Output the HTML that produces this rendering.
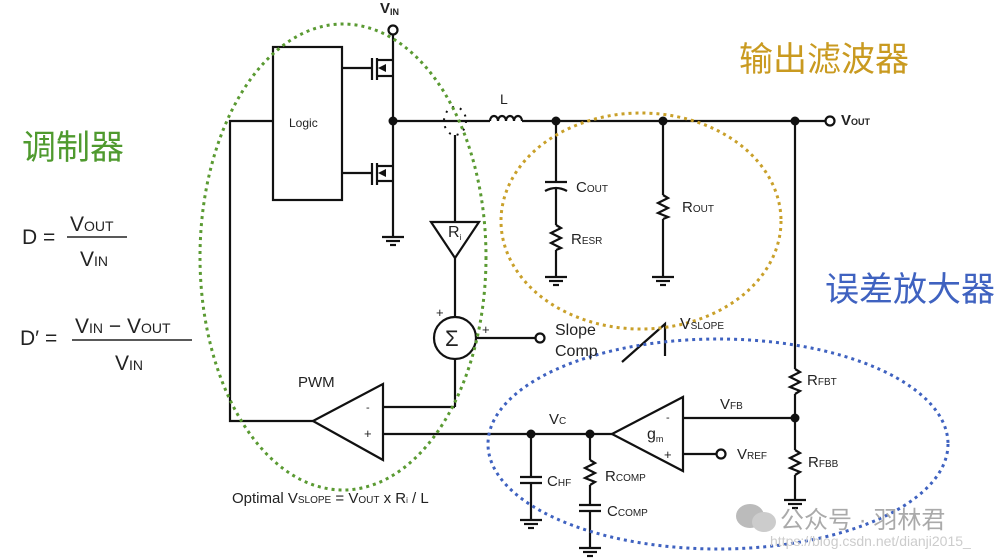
<!DOCTYPE html>
<html><head><meta charset="utf-8"><style>
html,body{margin:0;padding:0;background:#fff;}
svg{display:block;}
text{font-family:"Liberation Sans",Arial,sans-serif;fill:#222;}
.cn{font-family:"Liberation Sans","Noto Sans CJK SC",sans-serif;}
</style></head><body>
<svg width="1008" height="559" viewBox="0 0 1008 559" xmlns="http://www.w3.org/2000/svg">
<g stroke="#111" stroke-width="2.2" fill="none">
<rect x="273" y="47" width="69" height="153"/>
<line x1="393" y1="34" x2="393" y2="237"/>
<line x1="342" y1="68" x2="372" y2="68"/>
<line x1="372" y1="58" x2="372" y2="80"/>
<line x1="377" y1="58" x2="377" y2="80"/>
<line x1="377" y1="60" x2="393" y2="60"/>
<line x1="377" y1="76" x2="393" y2="76"/>
<line x1="342" y1="173" x2="372" y2="173"/>
<line x1="372" y1="163" x2="372" y2="185"/>
<line x1="377" y1="163" x2="377" y2="185"/>
<line x1="377" y1="166" x2="393" y2="166"/>
<line x1="377" y1="181" x2="393" y2="181"/>
<line x1="382" y1="237" x2="404" y2="237"/><line x1="386" y1="241" x2="400" y2="241"/><line x1="390" y1="245" x2="396" y2="245"/>
<line x1="393" y1="121" x2="490" y2="121"/>
<path d="M490 121 a4 5 0 0 1 8 0 a4 5 0 0 1 8 0 a4 5 0 0 1 8 0 a4 5 0 0 1 8 0"/>
<line x1="522" y1="121" x2="826" y2="121"/>
<circle cx="830" cy="121" r="4.5" fill="#fff"/>
<circle cx="393" cy="30" r="4.5" fill="#fff"/>
<line x1="455" y1="135" x2="455" y2="222"/>
<path d="M431 222 L479 222 L455 258 Z"/>
<line x1="455" y1="258" x2="455" y2="316"/>
<circle cx="455" cy="338" r="21"/>
<line x1="476" y1="338" x2="535" y2="338"/>
<circle cx="540" cy="338" r="4.5" fill="#fff"/>
<line x1="455" y1="359" x2="455" y2="407"/>
<line x1="455" y1="407" x2="383" y2="407"/>
<path d="M313 421 L383 384 L383 460 Z"/>
<polyline points="313,421 230,421 230,121 273,121"/>
<line x1="383" y1="434" x2="612" y2="434"/>
<polyline points="622,362 665,324 665,356"/>
<line x1="556" y1="121" x2="556" y2="181"/>
<line x1="545" y1="182" x2="567" y2="182"/>
<path d="M545 191 Q556 185 567 191"/>
<line x1="556" y1="188" x2="556" y2="225"/>
<polyline points="556,225 561,228 551,233 561,238 551,243 561,248 556,250"/>
<line x1="556" y1="250" x2="556" y2="277"/>
<line x1="545" y1="277" x2="567" y2="277"/><line x1="549" y1="281" x2="563" y2="281"/><line x1="553" y1="285" x2="559" y2="285"/>
<line x1="663" y1="121" x2="663" y2="195"/>
<polyline points="663,195 668,198 658,203 668,208 658,213 668,217 663,219"/>
<line x1="663" y1="219" x2="663" y2="277"/>
<line x1="652" y1="277" x2="674" y2="277"/><line x1="656" y1="281" x2="670" y2="281"/><line x1="660" y1="285" x2="666" y2="285"/>
<line x1="795" y1="121" x2="795" y2="369"/>
<polyline points="795,369 800,372 790,377 800,382 790,387 800,391 795,394"/>
<line x1="795" y1="394" x2="795" y2="450"/>
<polyline points="795,450 800,453 790,458 800,463 790,468 800,472 795,475"/>
<line x1="795" y1="475" x2="795" y2="500"/>
<line x1="784" y1="500" x2="806" y2="500"/><line x1="788" y1="504" x2="802" y2="504"/><line x1="792" y1="508" x2="798" y2="508"/>
<path d="M612 434 L683 397 L683 471 Z"/>
<line x1="683" y1="418" x2="795" y2="418"/>
<line x1="683" y1="454" x2="717" y2="454"/>
<circle cx="721" cy="454" r="4.5" fill="#fff"/>
<line x1="531" y1="434" x2="531" y2="476"/>
<line x1="520" y1="477" x2="542" y2="477"/><line x1="520" y1="483" x2="542" y2="483"/>
<line x1="531" y1="483" x2="531" y2="520"/>
<line x1="520" y1="520" x2="542" y2="520"/><line x1="524" y1="524" x2="538" y2="524"/><line x1="528" y1="528" x2="534" y2="528"/>
<line x1="590" y1="434" x2="590" y2="460"/>
<polyline points="590,460 595,463 585,468 595,473 585,478 595,482 590,485"/>
<line x1="590" y1="485" x2="590" y2="504"/>
<line x1="579" y1="505" x2="601" y2="505"/><line x1="579" y1="511" x2="601" y2="511"/>
<line x1="590" y1="511" x2="590" y2="548"/>
<line x1="579" y1="548" x2="601" y2="548"/><line x1="583" y1="552" x2="597" y2="552"/><line x1="587" y1="556" x2="593" y2="556"/>
</g>
<g fill="#111">
<path d="M378 68 L386 64 L386 72 Z"/>
<path d="M378 173 L386 169 L386 177 Z"/>
<circle cx="393" cy="121" r="4.5"/>
<circle cx="556" cy="121" r="4.5"/>
<circle cx="663" cy="121" r="4.5"/>
<circle cx="795" cy="121" r="4.5"/>
<circle cx="795" cy="418" r="4.5"/>
<circle cx="531" cy="434" r="4.5"/>
<circle cx="590" cy="434" r="4.5"/>
</g>
<ellipse cx="455" cy="121" rx="11" ry="14" fill="none" stroke="#111" stroke-width="2" stroke-dasharray="2 6"/>
<ellipse cx="343" cy="257" rx="143" ry="233" fill="none" stroke="#5a9a32" stroke-width="3" stroke-dasharray="3 4"/>
<ellipse cx="641" cy="221" rx="140" ry="108" fill="none" stroke="#c9a02a" stroke-width="3" stroke-dasharray="3 4"/>
<ellipse cx="718" cy="444" rx="230" ry="105" fill="none" stroke="#3f62c0" stroke-width="3" stroke-dasharray="3 4"/>
<text x="380" y="13" font-size="15" font-weight="bold">V<tspan font-size="9" dy="2">IN</tspan></text>
<text x="289" y="127" font-size="12">Logic</text>
<text x="500" y="104" font-size="14">L</text>
<text x="448" y="237" font-size="16">R<tspan font-size="8" dy="3">i</tspan></text>
<text x="445" y="346" font-size="22">Σ</text>
<text x="436" y="317" font-size="13">+</text>
<text x="482" y="334" font-size="13">+</text>
<text x="555" y="335" font-size="16">Slope</text>
<text x="555" y="356" font-size="16">Comp</text>
<text x="680" y="329" font-size="16">V<tspan font-size="10">SLOPE</tspan></text>
<text x="298" y="387" font-size="15">PWM</text>
<text x="366" y="411" font-size="11">-</text>
<text x="364" y="438" font-size="13">+</text>
<text x="576" y="192" font-size="15">C<tspan font-size="10">OUT</tspan></text>
<text x="571" y="244" font-size="15">R<tspan font-size="10">ESR</tspan></text>
<text x="682" y="212" font-size="15">R<tspan font-size="10">OUT</tspan></text>
<text x="841" y="125" font-size="15" font-weight="bold">V<tspan font-size="9">OUT</tspan></text>
<text x="807" y="385" font-size="15">R<tspan font-size="10">FBT</tspan></text>
<text x="808" y="467" font-size="15">R<tspan font-size="10">FBB</tspan></text>
<text x="720" y="409" font-size="15">V<tspan font-size="10">FB</tspan></text>
<text x="549" y="424" font-size="15">V<tspan font-size="10">C</tspan></text>
<text x="647" y="439" font-size="16">g<tspan font-size="9" dy="3">m</tspan></text>
<text x="666" y="421" font-size="11">-</text>
<text x="664" y="459" font-size="13">+</text>
<text x="737" y="459" font-size="15">V<tspan font-size="10">REF</tspan></text>
<text x="547" y="486" font-size="15">C<tspan font-size="10">HF</tspan></text>
<text x="605" y="481" font-size="15">R<tspan font-size="10">COMP</tspan></text>
<text x="607" y="516" font-size="15">C<tspan font-size="10">COMP</tspan></text>
<text x="232" y="503" font-size="15">Optimal V<tspan font-size="10">SLOPE</tspan> = V<tspan font-size="10">OUT</tspan> x R<tspan font-size="8">i</tspan> / L</text>
<text x="22" y="244" font-size="21">D =</text>
<line x1="67" y1="237" x2="127" y2="237" stroke="#222" stroke-width="1.5"/>
<text x="70" y="231" font-size="21">V<tspan font-size="14">OUT</tspan></text>
<text x="80" y="266" font-size="21">V<tspan font-size="14">IN</tspan></text>
<text x="20" y="345" font-size="21">D′ =</text>
<line x1="72" y1="340" x2="192" y2="340" stroke="#222" stroke-width="1.5"/>
<text x="75" y="333" font-size="21">V<tspan font-size="14">IN</tspan> − V<tspan font-size="14">OUT</tspan></text>
<text x="115" y="370" font-size="21">V<tspan font-size="14">IN</tspan></text>
<text class="cn" x="22" y="159" font-size="34" style="fill:#4f9a2e">调制器</text>
<text class="cn" x="739" y="71" font-size="34" style="fill:#c99a20">输出滤波器</text>
<text class="cn" x="825" y="301" font-size="34" style="fill:#3f62c0">误差放大器</text>
<ellipse cx="750" cy="516" rx="14" ry="12" fill="#bbb"/>
<ellipse cx="764" cy="522" rx="12" ry="10" fill="#ccc"/>
<text class="cn" x="780" y="528" font-size="24" style="fill:#aaa">公众号 · 羽林君</text>
<text x="770" y="546" font-size="14" style="fill:#ccc">https://blog.csdn.net/dianji2015_</text>
</svg>
</body></html>
